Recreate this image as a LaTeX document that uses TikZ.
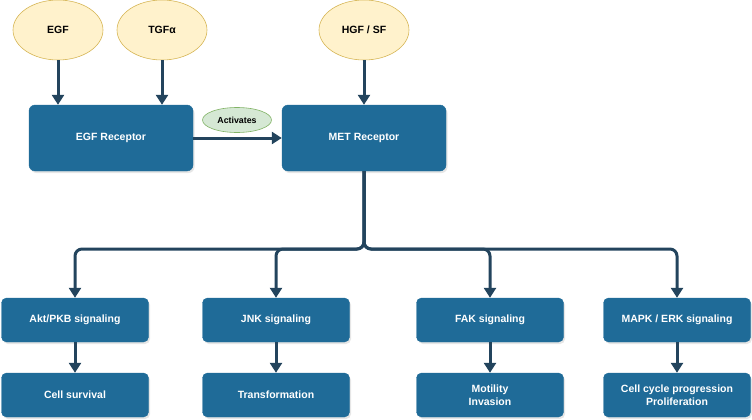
\documentclass[tikz,border=0pt]{standalone}
\usepackage{fontspec}
\setmainfont{Liberation Sans}
\usetikzlibrary{arrows.meta,shadows,shapes.geometric}
\definecolor{boxblue}{HTML}{1F6B98}
\definecolor{arrowc}{HTML}{23445D}
\definecolor{yfill}{HTML}{FFF2CC}
\definecolor{ydraw}{HTML}{D6B656}
\definecolor{gfill}{HTML}{D5E8D4}
\definecolor{gdraw}{HTML}{82B366}
\tikzset{
  bigbox/.style={rectangle, rounded corners=6pt, fill=boxblue, draw=boxblue,
    minimum width=164pt, minimum height=66pt, text=white, font=\bfseries\fontsize{10.5}{12.5}\selectfont,
    align=center, drop shadow={shadow xshift=1.5pt, shadow yshift=-2pt, opacity=0.2}},
  smallbox/.style={bigbox, rounded corners=5pt, minimum width=147pt, minimum height=44pt},
  ligand/.style={ellipse, fill=yfill, draw=ydraw, line width=0.6pt, minimum width=90pt, minimum height=60pt,
    inner sep=0pt, font=\bfseries\fontsize{10.5}{12.5}\selectfont},
  actnode/.style={ellipse, fill=gfill, draw=gdraw, line width=0.6pt, minimum width=69pt, minimum height=25pt,
    inner sep=0pt, font=\bfseries\fontsize{8.8}{10}\selectfont},
  arr/.style={draw=arrowc, line width=3pt, -{Triangle[width=12pt,length=10pt]}},
}
\begin{document}
\begin{tikzpicture}[x=1pt,y=-1pt]
\useasboundingbox (0,0) rectangle (752,420);
% ligands
\node[ligand] (egf) at (58,30) {EGF};
\node[ligand] (tgf) at (162,30) {TGFα};
\node[ligand] (hgf) at (364,30) {HGF / SF};
% receptors
\node[bigbox] (egfr) at (111,138) {EGF Receptor};
\node[bigbox] (met) at (364,138) {MET Receptor};
\node[actnode] (act) at (237,120) {Activates};
% signaling
\node[smallbox] (akt) at (75,320) {Akt/PKB signaling};
\node[smallbox] (jnk) at (276,320) {JNK signaling};
\node[smallbox] (fak) at (490,320) {FAK signaling};
\node[smallbox] (mapk) at (677,320) {MAPK / ERK signaling};
% outcomes
\node[smallbox] (surv) at (75,395) {Cell survival};
\node[smallbox] (trans) at (276,395) {Transformation};
\node[smallbox] (mot) at (490,395) {Motility\\Invasion};
\node[smallbox] (cyc) at (677,395) {Cell cycle progression\\Proliferation};
% arrows
\draw[arr] (egf.south) -- (egf.south |- egfr.north);
\draw[arr] (tgf.south) -- (tgf.south |- egfr.north);
\draw[arr] (hgf.south) -- (met.north);
\draw[arr] (egfr.east) -- (met.west);
\coordinate (bus) at (364,249);
\draw[arr, rounded corners=7pt] (met.south) -- (bus) -| (akt.north);
\draw[arr, rounded corners=7pt] (met.south) -- (bus) -| (jnk.north);
\draw[arr, rounded corners=7pt] (met.south) -- (bus) -| (fak.north);
\draw[arr, rounded corners=7pt] (met.south) -- (bus) -| (mapk.north);
\draw[arr] (akt.south) -- (surv.north);
\draw[arr] (jnk.south) -- (trans.north);
\draw[arr] (fak.south) -- (mot.north);
\draw[arr] (mapk.south) -- (cyc.north);
\end{tikzpicture}
\end{document}
